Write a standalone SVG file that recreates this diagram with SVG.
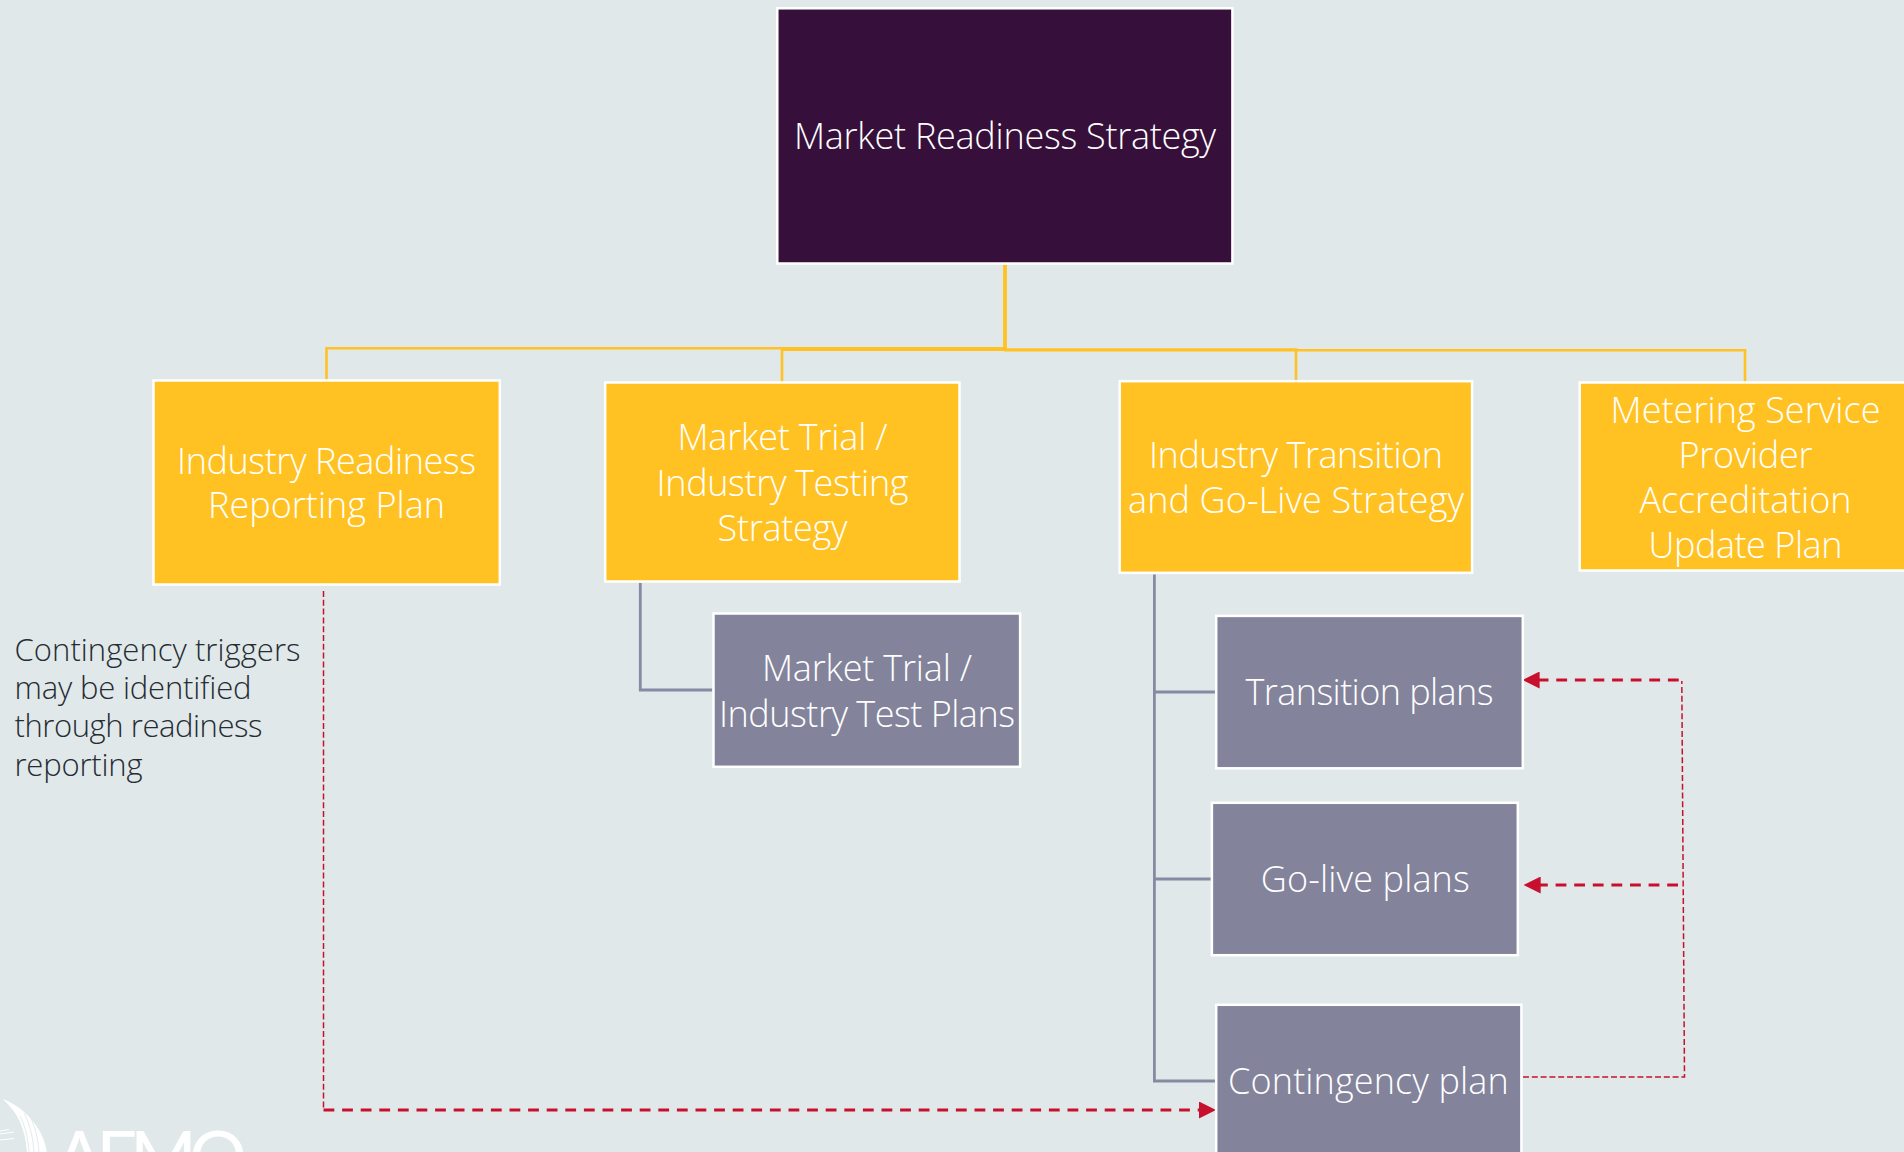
<svg xmlns="http://www.w3.org/2000/svg" width="1904" height="1152" viewBox="0 0 1904 1152">
<style>
.box{stroke:#fff;stroke-width:2.5}
.dark{fill:#36103B}.yellow{fill:#FFC222}.grey{fill:#83849B}
text{font-family:"Open Sans","Noto Sans","Liberation Sans",sans-serif;font-weight:300;font-size:36px;fill:#fff;text-anchor:middle}
.note{font-size:31px;fill:#262C33;text-anchor:start}
.logo{font-family:Lato,"Liberation Sans",sans-serif;font-weight:400;font-size:72px;text-anchor:start}
.y,.g,.rt,.rb{fill:none}
.y{stroke:#FFC222;stroke-width:2.6}
.g{stroke:#878AA3;stroke-width:2.8}
.rb{stroke:#C8102E;stroke-width:3.2;stroke-dasharray:10.8 7.8}
.rt{stroke:#C8102E;stroke-width:1.5;stroke-dasharray:6 2.8}
</style>
<defs>
<marker id="head" markerUnits="userSpaceOnUse" markerWidth="17" markerHeight="17" refX="1" refY="8.5" orient="auto"><path d="M0 0L17 8.5L0 17z" fill="#C8102E"/></marker>
</defs>
<rect width="1904" height="1152" fill="#E0E8EA"/>
<g id="logo">
<path d="M2.5 1099C25 1107 45 1130 47 1154L27 1154C26 1130 18 1112 2.5 1099Z" fill="#fff"/>
<path d="M0 1131L9 1129.5M0 1134L14 1132M0 1140L14 1138.5" stroke="#fff" stroke-width="1.2" fill="none"/>
<path d="M29 1152C28 1136 24 1124 20 1116M34 1152C33 1136 29 1122 24 1113M39 1152C38 1138 35 1126 29 1114" stroke="#E0E8EA" stroke-width="0.9" fill="none"/>
<text class="logo" x="55" y="1183" textLength="192">AEMO</text>
</g>
<g id="connectors">
<path class="y" d="M1004.5 265V348.2H326.5V379.5"/>
<path class="y" d="M1005 265V349.7H782V381.5"/>
<path class="y" d="M1005 265V349.5H1296V380.5"/>
<path class="y" d="M1005.5 265V350.2H1745V381.5"/>
<path class="g" d="M640.3 583V690H712.5"/>
<path class="g" d="M1154.4 574.5V1081H1215.5"/>
<path class="g" d="M1154.4 692H1215.5"/>
<path class="g" d="M1154.4 879H1211"/>
<path class="rt" d="M323.5 591V1109.5"/>
<path class="rb" d="M323.5 1110H1200" marker-end="url(#head)"/>
<path class="rt" d="M1523 1077H1684.5L1681.8 681"/>
<path class="rb" d="M1678.7 680H1538.6" marker-end="url(#head)"/>
<path class="rb" d="M1678 885H1539.7" marker-end="url(#head)"/>
</g>
<g id="market-readiness-strategy">
<rect class="box dark" x="777.3" y="8.3" width="455.1" height="255.2"/>
<text x="1005" y="149" textLength="422">Market Readiness Strategy</text>
</g>
<g id="industry-readiness-reporting-plan">
<rect class="box yellow" x="153.5" y="380.5" width="346.3" height="204"/>
<text x="326.5" y="473.8" textLength="299">Industry Readiness</text>
<text x="326.5" y="518.4" textLength="237">Reporting Plan</text>
</g>
<g id="market-trial-strategy">
<rect class="box yellow" x="605.2" y="382.5" width="354.3" height="199"/>
<text x="782.5" y="450" textLength="210">Market Trial /</text>
<text x="782.5" y="495.5" textLength="252">Industry Testing</text>
<text x="782.5" y="540.5" textLength="130">Strategy</text>
</g>
<g id="market-trial-plans">
<rect class="box grey" x="713.5" y="613.5" width="306.6" height="153.3"/>
<text x="867" y="681.2" textLength="210">Market Trial /</text>
<text x="867" y="726.5" textLength="296">Industry Test Plans</text>
</g>
<g id="industry-transition-strategy">
<rect class="box yellow" x="1119.7" y="381.2" width="352.4" height="191.6"/>
<text x="1296" y="468.4" textLength="294">Industry Transition</text>
<text x="1296" y="513.2" textLength="336">and Go-Live Strategy</text>
</g>
<g id="metering-service-provider-plan">
<rect class="box yellow" x="1579.7" y="382.5" width="331" height="188"/>
<text x="1745.5" y="423.4" textLength="270">Metering Service</text>
<text x="1745.5" y="468.4" textLength="134">Provider</text>
<text x="1745.5" y="513.2" textLength="212">Accreditation</text>
<text x="1745.5" y="558" textLength="194">Update Plan</text>
</g>
<g id="transition-plans">
<rect class="box grey" x="1216.2" y="615.9" width="306.6" height="152.4"/>
<text x="1369.5" y="705" textLength="248">Transition plans</text>
</g>
<g id="go-live-plans">
<rect class="box grey" x="1211.9" y="802.8" width="305.9" height="152.4"/>
<text x="1365.3" y="892" textLength="209">Go-live plans</text>
</g>
<g id="contingency-plan">
<rect class="box grey" x="1216.2" y="1004.8" width="305.2" height="160"/>
<text x="1368.4" y="1093.6" textLength="280.6">Contingency plan</text>
</g>
<g id="contingency-note">
<text class="note" x="14.5" y="661.2" textLength="286">Contingency triggers</text>
<text class="note" x="14.5" y="699.4" textLength="237">may be identified</text>
<text class="note" x="14.5" y="737.4" textLength="248">through readiness</text>
<text class="note" x="14.5" y="776.2" textLength="128">reporting</text>
</g>
</svg>
